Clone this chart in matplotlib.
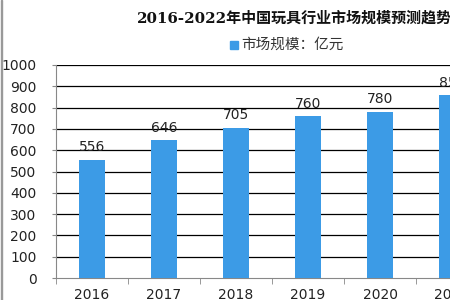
import matplotlib
matplotlib.use("Agg")
import matplotlib.pyplot as plt
from matplotlib.patches import Rectangle

plt.rcParams['font.family'] = ['DejaVu Sans', 'Noto Sans CJK SC']

years = ["2016", "2017", "2018", "2019", "2020", "2021"]
values = [556, 646, 705, 760, 780, 858]
labels = ["556", "646", "705", "760", "780", "858"]
title = "2016-2022年中国玩具行业市场规模预测趋势图"
legend_label = "市场规模：亿元"
yticks = list(range(0, 1001, 100))

W, H = 450, 300
fig = plt.figure(figsize=(4.5, 3.0), dpi=100)
fig.patch.set_facecolor('white')

# axes: left at x=56px, one category = 72px, y0 at 278px, y1000 at 65px
left = 56 / W
bottom = (H - 278) / H
height = (278 - 65) / H
ncat_total = 7
width = ncat_total * 72 / W
ax = fig.add_axes([left, bottom, width, height])

bar_color = '#3c9be6'
x = list(range(len(years)))
ax.bar(x, values, width=0.37, color=bar_color, zorder=3)
for xi, v, lab in zip(x, values, labels):
    ax.annotate(lab, (xi, v), xytext=(0, 4), textcoords='offset points',
                ha='center', va='bottom', fontsize=10, color='#222222')

ax.set_xlim(-0.5, ncat_total - 0.5)
ax.set_ylim(0, 1000)
ax.set_yticks(yticks)
ax.set_yticklabels([str(t) for t in yticks], fontsize=10, color='#222222')
ax.set_xticks(x)
ax.set_xticklabels(years, fontsize=10, color='#222222')
ax.set_xticks([i - 0.5 for i in range(ncat_total + 1)], minor=True)
ax.tick_params(axis='x', which='major', length=0, pad=7)
ax.tick_params(axis='x', which='minor', length=4, color='#888888', direction='out')
ax.tick_params(axis='y', length=3, color='#888888', pad=11)

for t in yticks[1:]:
    ax.axhline(t, color='black', linewidth=0.9, zorder=1)

for s in ['top', 'right']:
    ax.spines[s].set_visible(False)
ax.spines['left'].set_color('#888888')
ax.spines['bottom'].set_color('#888888')

# title (cropped on the right in the reference)
fig.text(137 / W, 1 - 18 / H, title, ha='left', va='center', fontsize=10.8,
         fontweight='bold', family=['DejaVu Serif', 'Noto Sans CJK SC'], color='#111111')

# legend
fig.patches.append(Rectangle((230 / W, 1 - 49 / H), 8 / W, 8 / H,
                             transform=fig.transFigure, color=bar_color))
fig.text(241 / W, 1 - 45 / H, legend_label, ha='left', va='center', fontsize=10.5,
         family=['Noto Sans CJK SC'], color='#333333')

# left border line
fig.patches.append(Rectangle((1 / W, 0), 1.2 / W, 1, transform=fig.transFigure,
                             color='#999999'))

fig.savefig('out.png', dpi=100)
